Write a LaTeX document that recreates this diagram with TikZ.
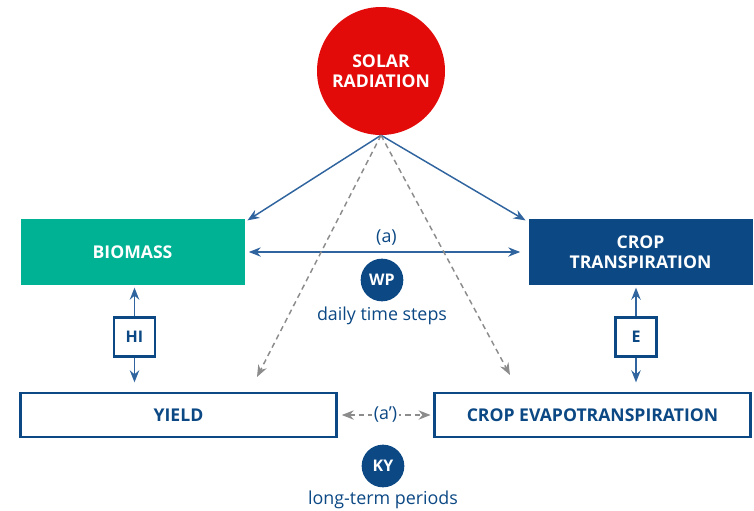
\documentclass[tikz,border=0pt]{standalone}
\usepackage{fontspec}
\setmainfont{Open Sans}
\usetikzlibrary{arrows.meta}
\definecolor{sunred}{HTML}{E30A0A}
\definecolor{teal}{HTML}{00B294}
\definecolor{navy}{HTML}{0B4884}
\definecolor{linkblue}{HTML}{2F649E}
\definecolor{dashgray}{HTML}{8C8C8C}
\begin{document}
\begin{tikzpicture}[x=0.75pt,y=-0.75pt,
	box/.style={rectangle, minimum width=168pt, minimum height=49pt, inner sep=0pt, text=white, align=center, font=\fontsize{13.2}{15}\selectfont\bfseries},
	outbox/.style={rectangle, draw=navy, line width=1.9pt, fill=white, minimum width=237pt, minimum height=33pt, inner sep=0pt, text=navy, font=\fontsize{13.2}{15}\selectfont\bfseries},
	factor/.style={rectangle, draw=navy, line width=1.8pt, fill=white, minimum width=31pt, minimum height=29pt, inner sep=0pt, text=navy, font=\fontsize{12}{14}\selectfont\bfseries},
	coef/.style={circle, fill=navy, minimum size=32pt, inner sep=0pt, text=white, font=\fontsize{12}{14}\selectfont\bfseries},
	note/.style={text=navy, font=\fontsize{13.4}{15}\selectfont},
	link/.style={draw=linkblue, line width=1.1pt, -{Stealth[length=9pt,width=7pt]}},
	hint/.style={draw=dashgray, line width=1.1pt, dash pattern=on 4pt off 3pt, -{Stealth[length=9pt,width=7pt]}}]
	\useasboundingbox (0,0) rectangle (754,511);
	% sun on top
	\node[circle, fill=sunred, minimum size=96pt, inner sep=0pt, text=white, align=center, font=\fontsize{13.2}{15}\selectfont\bfseries] (sun) at (381,71) {SOLAR\\RADIATION};
	% daily level
	\node[box, fill=teal] (biomass) at (132.5,252) {BIOMASS};
	\node[box, fill=navy] (transp) at (640.5,252) {CROP\\TRANSPIRATION};
	\node[coef] (wp) at (382,280) {WP};
	\node[note] (daily) at (382,316) {daily time steps};
	% seasonal level
	\node[outbox] (yield) at (178.5,415) {YIELD};
	\node[outbox] (evap) at (592.5,415) {CROP EVAPOTRANSPIRATION};
	\node[factor] (hi) at (134.5,337) {HI};
	\node[factor] (e) at (636,337) {E};
	\node[coef] (ky) at (383,466) {KY};
	\node[note] (long) at (383,500) {long-term periods};
	\coordinate (yt) at (257,377);
	\coordinate (et) at (510,375);
	% connectors
	\draw[link] (sun.south) -- ([shift={(2pt,-1pt)}]biomass.north east);
	\draw[link] (sun.south) -- ([shift={(-2pt,-1pt)}]transp.north west);
	\draw[link, {Stealth[length=9pt,width=7pt]}-{Stealth[length=9pt,width=7pt]}, shorten <=3pt, shorten >=6pt] (biomass.east) -- (transp.west) node[midway, above=1pt, note] (a) {(a)};
	\draw[hint] (sun.south) -- (yt);
	\draw[hint] (sun.south) -- (et);
	\draw[link, line width=1.4pt] (hi.north) -- ([yshift=-2pt]hi |- biomass.south);
	\draw[link, line width=1.4pt] (hi.south) -- ([yshift=7pt]hi |- yield.north);
	\draw[link, line width=1.4pt] (e.north) -- ([yshift=-2pt]e |- transp.south);
	\draw[link, line width=1.4pt] (e.south) -- ([yshift=7pt]e |- evap.north);
	\draw[hint, {Stealth[length=9pt,width=7pt]}-{Stealth[length=9pt,width=7pt]}, shorten <=3pt, shorten >=2pt] (yield.east) -- (evap.west) node[midway, fill=white, inner sep=1pt, note] (ap) {(a’)};
\end{tikzpicture}
\end{document}
